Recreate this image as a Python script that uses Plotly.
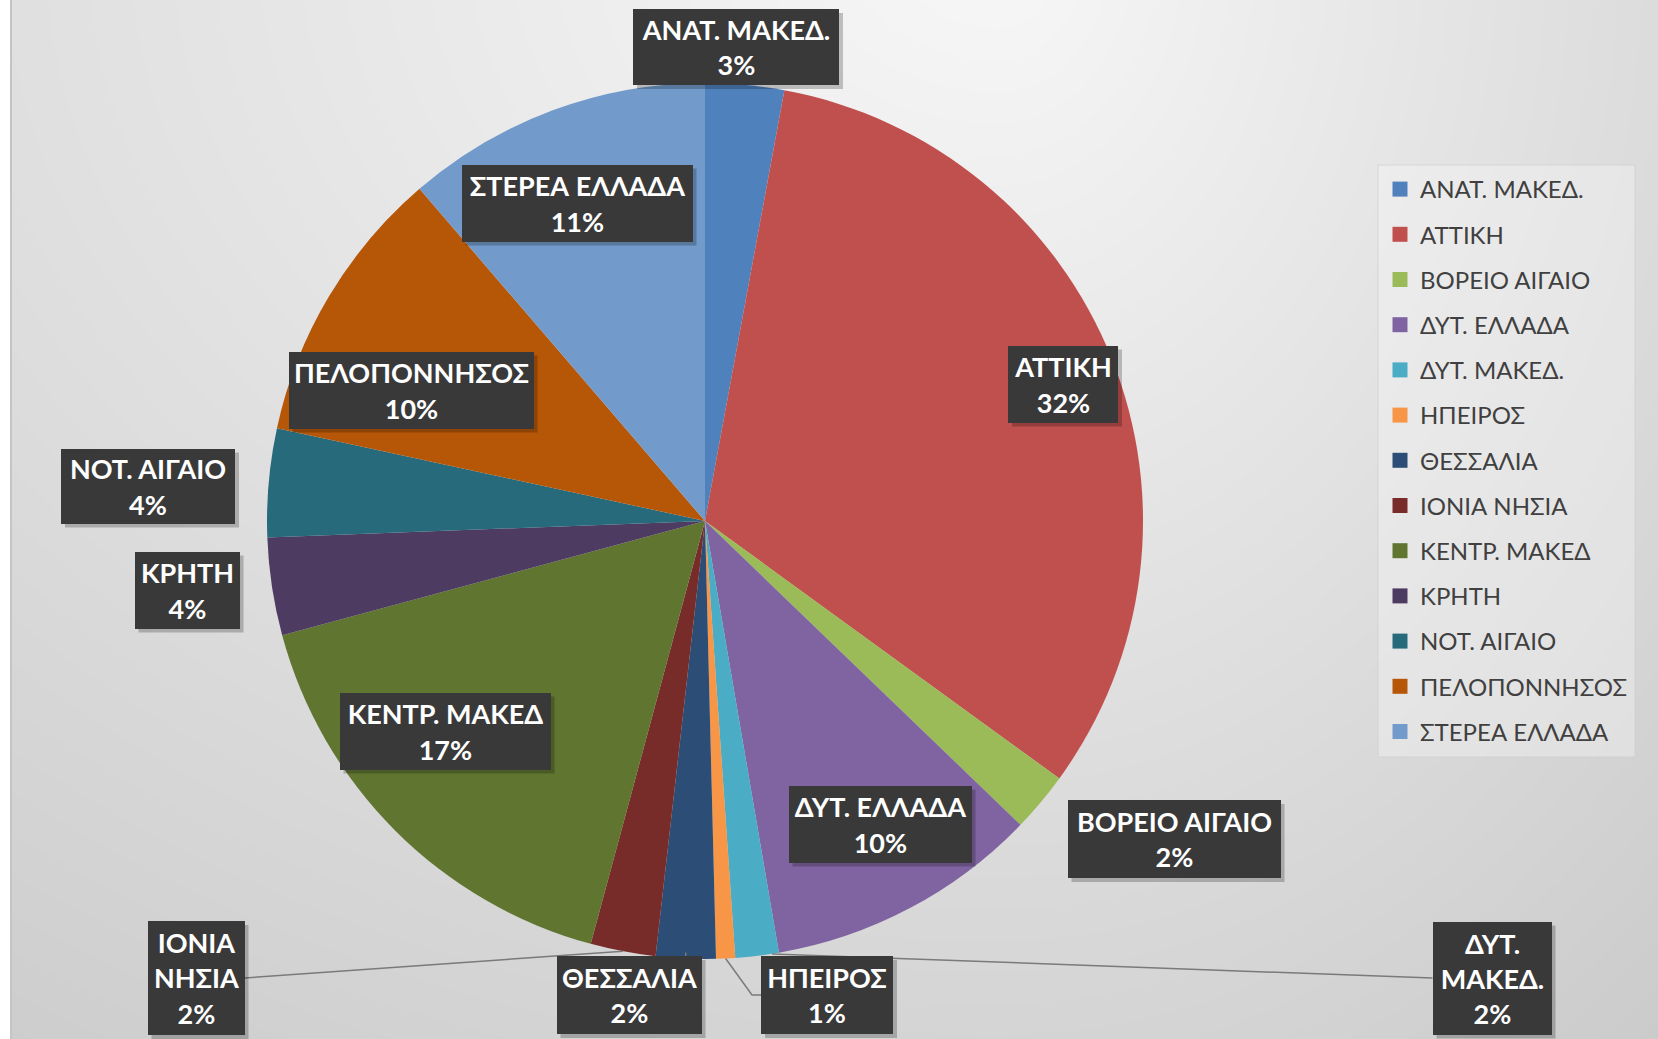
import numpy as np
import plotly.graph_objects as go

W, H = 1658, 1039

# ---------------- data ----------------
categories = ["ΑΝΑΤ. ΜΑΚΕΔ.", "ΑΤΤΙΚΗ", "ΒΟΡΕΙΟ ΑΙΓΑΙΟ", "ΔΥΤ. ΕΛΛΑΔΑ", "ΔΥΤ. ΜΑΚΕΔ.",
              "ΗΠΕΙΡΟΣ", "ΘΕΣΣΑΛΙΑ", "ΙΟΝΙΑ ΝΗΣΙΑ", "ΚΕΝΤΡ. ΜΑΚΕΔ", "ΚΡΗΤΗ",
              "ΝΟΤ. ΑΙΓΑΙΟ", "ΠΕΛΟΠΟΝΝΗΣΟΣ", "ΣΤΕΡΕΑ ΕΛΛΑΔΑ"]
shares = [2.9, 32.1, 2.2, 10.1, 1.6, 0.7, 2.2, 2.4, 16.6, 3.6, 4.0, 10.3, 11.3]

# ---------------- styles / layout ----------------
colors = ["#4F81BD", "#C0504D", "#9BBB59", "#8064A2", "#4BACC6", "#F79646", "#2C4D75",
          "#772C2A", "#5F7530", "#4D3B62", "#276A7C", "#B65708", "#729ACA"]

# label boxes in pixel coordinates: centre x, centre y, width, height
box_cx = [736, 1063, 1174, 880, 1492, 827, 629, 196, 445, 187, 148, 411, 577]
box_cy = [47, 384, 839, 824, 978, 995, 995, 978, 731, 590, 486, 390, 203]
box_w = [206, 110, 213, 183, 119, 132, 145, 97, 211, 105, 174, 245, 231]
box_h = [76, 77, 78, 77, 113, 78, 78, 114, 77, 77, 75, 77, 77]
wrap_name = [False, False, False, False, True, False, False, True, False, False, False, False, False]

PIE_CX, PIE_CY, PIE_R = 705, 521, 438

fig = go.Figure()

# background gradient (decorative)
gx = np.linspace(0, W, 84)
gy = np.linspace(0, H, 53)
GX, GY = np.meshgrid(gx, gy)
gcx, gcy = 1000, -50
rx = np.where(GX < gcx, (GX - gcx) / 1400.0, (GX - gcx) / 800.0)
rr = np.sqrt(rx ** 2 + ((GY - gcy) / 1037.0) ** 2)
Z = 247 - 33 * rr
fig.add_trace(go.Heatmap(x=gx, y=gy, z=Z, zmin=180, zmax=250, zsmooth="best",
                         colorscale=[[0, "rgb(180,180,180)"], [1, "rgb(250,250,250)"]],
                         showscale=False, hoverinfo="skip"))

# pie
fig.add_trace(go.Pie(
    labels=categories, values=shares, sort=False, direction="clockwise", rotation=0,
    marker=dict(colors=colors, line=dict(width=0)), textinfo="none", showlegend=False,
    domain=dict(x=[(PIE_CX - PIE_R) / W, (PIE_CX + PIE_R) / W],
                y=[1 - (PIE_CY + PIE_R) / H, 1 - (PIE_CY - PIE_R) / H]),
))

# legend entries
for name, col in zip(categories, colors):
    fig.add_trace(go.Scatter(x=[None], y=[None], mode="markers", name=name, legendgroup=name,
                             marker=dict(symbol="square", size=15, color=col)))

total = sum(shares)
pcts = [round(v / total * 100) for v in shares]

shapes = []
annotations = []
# left white strip + edge
shapes.append(dict(type="rect", x0=0, x1=10, y0=0, y1=H, fillcolor="white", line=dict(width=0), layer="above"))
shapes.append(dict(type="line", x0=11, x1=11, y0=0, y1=H, line=dict(color="#c4c4c4", width=2), layer="above"))
# legend box
shapes.append(dict(type="rect", x0=1378, x1=1635, y0=165, y1=757,
                   fillcolor="rgba(250,250,250,0.35)", line=dict(color="rgba(205,205,205,0.7)", width=1),
                   layer="above"))

# leader lines: edge point at slice middle
cum = np.cumsum([0] + shares)
def edge_pt(i):
    a = np.deg2rad((cum[i] + shares[i] / 2) / total * 360.0)
    return PIE_CX + PIE_R * np.sin(a), PIE_CY - PIE_R * np.cos(a)

i_ion = categories.index("ΙΟΝΙΑ ΝΗΣΙΑ")
i_the = categories.index("ΘΕΣΣΑΛΙΑ")
i_hpe = categories.index("ΗΠΕΙΡΟΣ")
i_dma = categories.index("ΔΥΤ. ΜΑΚΕΔ.")
lc = dict(color="#7a7a7a", width=1.5)
ex, ey = edge_pt(i_ion)
shapes.append(dict(type="line", x0=ex, y0=ey, x1=box_cx[i_ion] + box_w[i_ion] / 2, y1=box_cy[i_ion], line=lc, layer="above"))
ex, ey = edge_pt(i_the)
shapes.append(dict(type="line", x0=ex, y0=ey - 6, x1=ex, y1=box_cy[i_the] - box_h[i_the] / 2, line=lc, layer="above"))
ex, ey = edge_pt(i_hpe)
bx = box_cx[i_hpe] - box_w[i_hpe] / 2
by = box_cy[i_hpe]
shapes.append(dict(type="path", path=f"M {ex},{ey} L {bx-9},{by} L {bx},{by}", line=lc, layer="above"))
ex, ey = edge_pt(i_dma)
shapes.append(dict(type="line", x0=ex + 15, y0=ey - 2, x1=box_cx[i_dma] - box_w[i_dma] / 2, y1=box_cy[i_dma], line=lc, layer="above"))

for i, name in enumerate(categories):
    nm = name.replace(" ", "<br>") if wrap_name[i] else name
    txt = f"<b>{nm}</b><br><b>{pcts[i]}%</b>"
    x0 = box_cx[i] - box_w[i] / 2
    y0 = box_cy[i] - box_h[i] / 2
    shapes.append(dict(type="rect", x0=x0 + 4, x1=x0 + box_w[i] + 4, y0=y0 + 4, y1=y0 + box_h[i] + 4,
                       fillcolor="rgba(0,0,0,0.22)", line=dict(width=0), layer="above"))
    annotations.append(dict(x=box_cx[i], y=box_cy[i], xref="x", yref="y", text=txt, showarrow=False,
                            xanchor="center", yanchor="middle", align="center",
                            width=box_w[i], height=box_h[i], borderpad=0, borderwidth=0,
                            bgcolor="#393939",
                            font=dict(family="Lato, 'Open Sans', sans-serif", size=27, color="white")))

fig.update_layout(
    width=W, height=H, margin=dict(l=0, r=0, t=0, b=0),
    paper_bgcolor="white", plot_bgcolor="white",
    xaxis=dict(range=[0, W], visible=False, fixedrange=True),
    yaxis=dict(range=[H, 0], visible=False, fixedrange=True),
    showlegend=True,
    legend=dict(x=1380 / W, y=1 - 167 / H, xanchor="left", yanchor="top",
                bgcolor="rgba(0,0,0,0)", tracegroupgap=11,
                font=dict(family="Lato, 'Open Sans', sans-serif", size=24, color="#404040")),
    shapes=shapes, annotations=annotations,
)

fig.write_html("out.html", config={"displayModeBar": False},
               post_script="document.body.style.margin='0';document.body.style.overflow='hidden';")
